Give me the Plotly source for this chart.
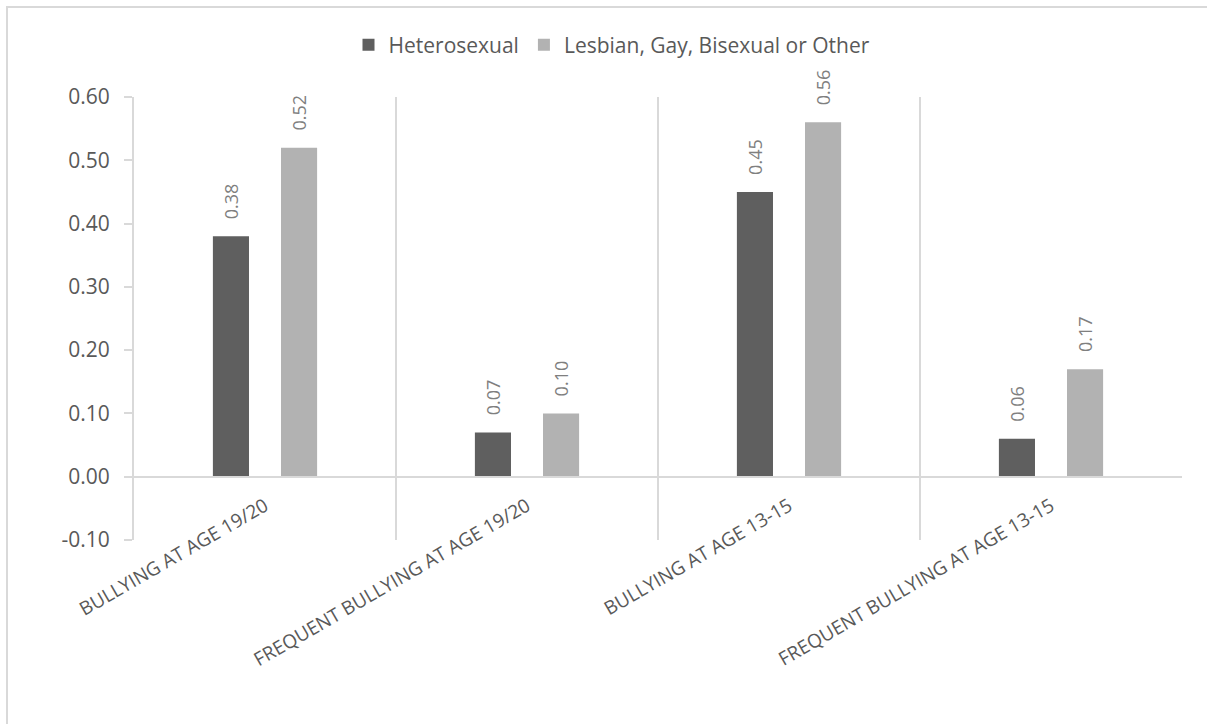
import plotly.graph_objects as go

categories = ["BULLYING AT AGE 19/20", "FREQUENT BULLYING AT AGE 19/20",
              "BULLYING AT AGE 13-15", "FREQUENT BULLYING AT AGE 13-15"]
hetero = [0.38, 0.07, 0.45, 0.06]
lgbo = [0.52, 0.10, 0.56, 0.17]
series_names = ["Heterosexual", "Lesbian, Gay, Bisexual or Other"]
y_ticks = [-0.10, 0.00, 0.10, 0.20, 0.30, 0.40, 0.50, 0.60]

FONT = "Open Sans"
GRID = "#d9d9d9"
PAD = "\u00a0\u00a0\u00a0"

fig = go.Figure()
for name, vals, col in [(series_names[0], hetero, "#5f5f5f"),
                        (series_names[1], lgbo, "#b2b2b2")]:
    fig.add_trace(go.Bar(
        x=categories, y=vals, name=name,
        marker=dict(color=col, line=dict(width=0)),
        text=[PAD + f"{v:.2f}" for v in vals],
        texttemplate="%{text}",
        textposition="outside", textangle=-90, constraintext="none",
        textfont=dict(family=FONT, size=18, color="#7f7f7f"),
        cliponaxis=False,
    ))

fig.update_layout(
    width=1207, height=724,
    margin=dict(l=134, r=25, t=97, b=184),
    paper_bgcolor="white", plot_bgcolor="white",
    barmode="group", bargap=0.48, bargroupgap=0.47,
    font=dict(family=FONT, color="#595959"),
    showlegend=True,
    legend=dict(orientation="h", x=(612 - 134) / 1048, xanchor="center",
                y=1.117, yanchor="middle",
                font=dict(family=FONT, size=21, color="#595959"),
                bgcolor="rgba(0,0,0,0)", itemsizing="constant"),
    xaxis=dict(
        type="category", anchor="free", position=1/7,
        showline=True, linecolor=GRID, linewidth=2,
        showgrid=True, gridcolor=GRID, gridwidth=2, tickson="boundaries",
        ticks="", tickangle=-30, automargin=False, ticklabelstandoff=10,
        tickfont=dict(family=FONT, size=19, color="#595959"),
        zeroline=False,
    ),
    yaxis=dict(
        range=[-0.1, 0.6], tickvals=y_ticks,
        ticktext=[f"{v:.2f}" for v in y_ticks],
        showline=True, linecolor=GRID, linewidth=2,
        ticks="outside", ticklen=8, tickcolor=GRID, tickwidth=2,
        showgrid=False, zeroline=False, automargin=False, ticklabelstandoff=10,
        tickfont=dict(family=FONT, size=21, color="#595959"),
    ),
    shapes=[dict(type="rect", xref="paper", yref="paper",
                 x0=(7 - 134) / 1048, x1=(1220 - 134) / 1048,
                 y0=(540 - 740) / 443, y1=(540 - 7) / 443,
                 line=dict(color=GRID, width=2), fillcolor="rgba(0,0,0,0)",
                 layer="below")],
)

fig.write_html("out.html")
